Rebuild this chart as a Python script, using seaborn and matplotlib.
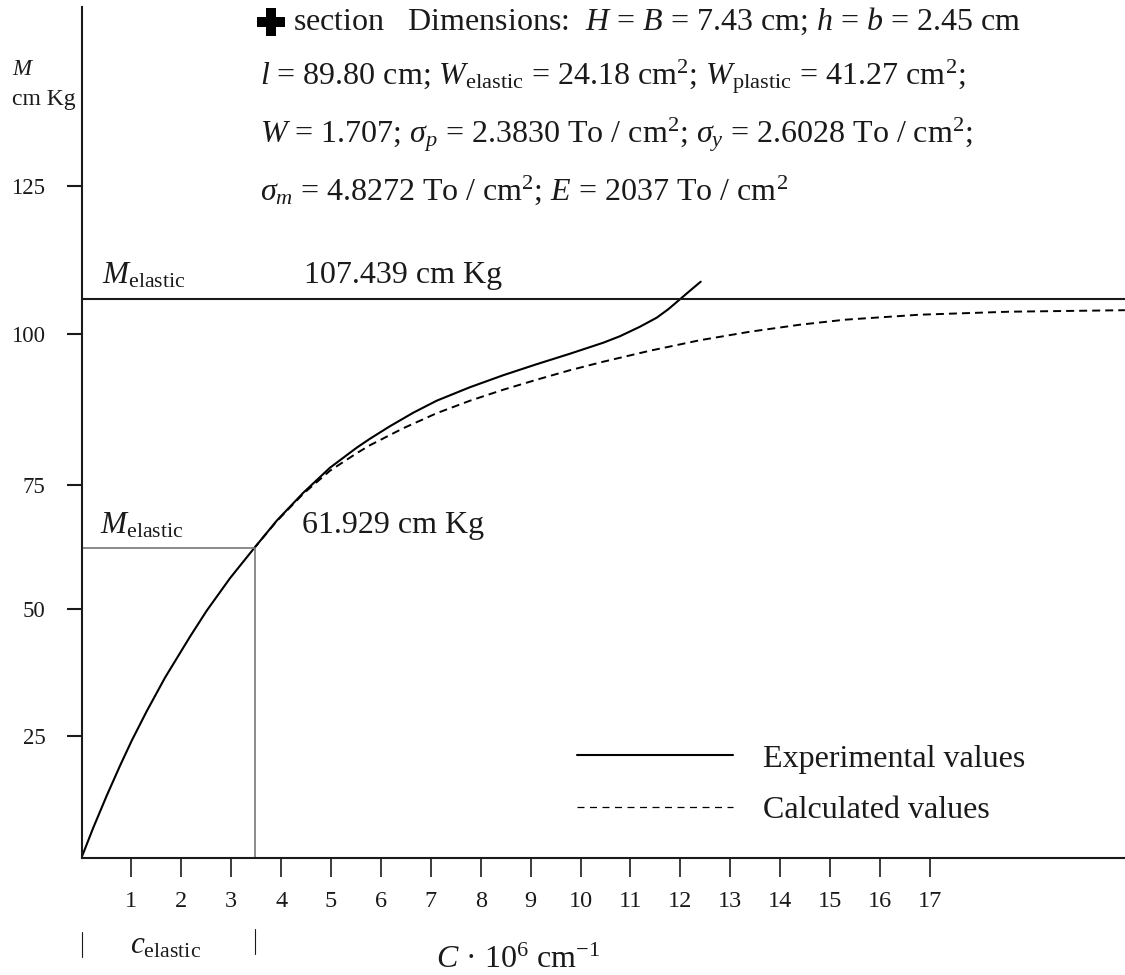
import matplotlib
matplotlib.use("Agg")
import matplotlib.pyplot as plt
import pandas as pd
import seaborn as sns

# values as drawn; the printed M axis in the source is not evenly spaced
exp_c = [0.0, 0.236, 0.505, 0.772, 1.006, 1.307, 1.673, 2.174, 2.509, 2.976, 3.443, 3.912, 4.445, 4.98, 5.515, 5.782,
         6.182, 6.649, 7.118, 7.786, 8.453, 9.122, 9.79, 10.457, 10.792, 11.192, 11.527, 11.76, 11.96, 12.194, 12.409]
exp_m = [0.0, 6.0, 12.4, 18.4, 23.4, 29.3, 36.0, 44.2, 49.4, 55.9, 61.7, 67.4, 73.0, 78.0, 82.0, 83.8,
         86.3, 89.0, 91.4, 94.1, 96.5, 98.7, 100.8, 103.0, 104.3, 106.2, 108.0, 109.7, 111.4, 113.4, 115.2]

calc_c = [3.443, 3.912, 4.445, 4.98, 5.515, 5.782, 6.449, 7.118, 7.786, 8.453, 9.122, 9.79, 10.457, 11.393, 12.395,
          13.397, 14.399, 15.3, 16.8, 18.6, 20.91]
calc_m = [61.7, 67.3, 72.8, 77.4, 80.9, 82.5, 85.9, 88.9, 91.4, 93.6, 95.6, 97.5, 99.2, 101.4, 103.5,
          105.2, 106.6, 107.6, 108.6, 109.2, 109.5]

m_elastic_upper = 111.7
m_elastic_lower = 61.929
c_elastic = 3.48

y_tick_pos = [24.4, 49.8, 74.6, 104.8, 134.4]
y_tick_labels = ["25", "50", "75", "100", "125"]
x_tick_pos = list(range(1, 18))

W, H = 1125, 975
LEFT, BASE, TOP = 81.5, 857.7, 7

sns.set_theme(style="white", rc={"axes.facecolor": "white", "figure.facecolor": "white"})
plt.rcParams["font.family"] = ["Liberation Serif"]
plt.rcParams["mathtext.fontset"] = "custom"
plt.rcParams["mathtext.rm"] = "Liberation Serif"
plt.rcParams["mathtext.it"] = "Liberation Serif:italic"
plt.rcParams["mathtext.default"] = "rm"

fig = plt.figure(figsize=(W / 100, H / 100), dpi=100)
ax = fig.add_axes([LEFT / W, 1 - BASE / H, 1 - LEFT / W, (BASE - TOP) / H])

exp_df = pd.DataFrame({"c": exp_c, "m": exp_m})
calc_df = pd.DataFrame({"c": calc_c, "m": calc_m})
sns.lineplot(data=exp_df, x="c", y="m", color="black", linewidth=1.5, ax=ax, label="Experimental values", sort=False)
sns.lineplot(data=calc_df, x="c", y="m", color="black", linewidth=1.4, ax=ax, label="Calculated values", sort=False,
             linestyle=(0, (4.1, 2.6)))

ax.plot([0, 20.91], [m_elastic_upper, m_elastic_upper], color="#1a1a1a", lw=1.5)
ax.plot([0, c_elastic, c_elastic], [m_elastic_lower, m_elastic_lower, 0], color="#777777", lw=1.2)

ax.set_xlim(0, (W - LEFT) / 49.9)
ax.set_ylim(0, (BASE - TOP) / 5)
ax.set_xlabel("")
ax.set_ylabel("")
ax.set_xticks(x_tick_pos, [str(v) for v in x_tick_pos])
ax.set_yticks(y_tick_pos, y_tick_labels)
ax.tick_params(axis="x", direction="out", bottom=True, length=13.5, width=1.2, pad=10.5, labelsize=17.5, color="#1a1a1a", labelcolor="#1a1a1a")
ax.tick_params(axis="y", direction="out", left=True, length=11, width=1.5, pad=15, labelsize=16.5, color="#1a1a1a", labelcolor="#1a1a1a")
for side in ["top", "right"]:
    ax.spines[side].set_visible(False)
for side in ["left", "bottom"]:
    ax.spines[side].set_color("#1a1a1a")
    ax.spines[side].set_linewidth(1.5)

leg = ax.legend(loc="upper left", bbox_to_anchor=(0.4745, 0.1333), frameon=False, fontsize=23, handlelength=4.9,
                handletextpad=0.92, labelspacing=0.7, borderpad=0, borderaxespad=0, labelcolor="#1a1a1a")
leg.get_lines()[1].set_linewidth(0.9)
leg.get_lines()[1].set_linestyle((0, (5.6, 4.4)))


def put(x, y, s, size=23):
    # x, y are figure pixels, y is the text baseline
    fig.text(x / W, 1 - y / H, s, fontsize=size, color="#1a1a1a", va="baseline", ha="left")


ax.plot([(271 - LEFT) / 49.9], [(BASE - 21.5) / 5], marker="P", ms=19.5, color="black", mew=0, clip_on=False)

put(293, 30, r"section   Dimensions:  $\mathit{H}$ = $\mathit{B}$ = 7.43 cm; $\mathit{h}$ = $\mathit{b}$ = 2.45 cm")
put(260, 84, r"$\mathit{l}$ = 89.80 cm; $\mathit{W}_{\mathrm{elastic}}$ = 24.18 cm$^{2}$; $\mathit{W}_{\mathrm{plastic}}$ = 41.27 cm$^{2}$;")
put(260, 142, r"$\mathit{W}$ = 1.707; $\mathit{\sigma}_{\mathit{p}}$ = 2.3830 To / cm$^{2}$; $\mathit{\sigma}_{\mathit{y}}$ = 2.6028 To / cm$^{2}$;")
put(260, 200, r"$\mathit{\sigma}_{\mathit{m}}$ = 4.8272 To / cm$^{2}$; $\mathit{E}$ = 2037 To / cm$^{2}$")
put(102, 283, r"$\mathit{M}_{\mathrm{elastic}}$", 22.5)
put(304, 283, "107.439 cm Kg")
put(100, 533, r"$\mathit{M}_{\mathrm{elastic}}$", 22.5)
put(302, 533, "61.929 cm Kg")
put(12, 75, r"$\mathit{M}$", 16.5)
put(12, 105, "cm Kg", 17)
put(130, 953, r"$\mathit{c}_{\mathrm{elastic}}$", 22.5)
put(436, 968, r"$\mathit{C}$ · 10$^{6}$ cm$^{-1}$", 23)

for px, top, bottom in [(81.5, 932, 957), (254.5, 929, 954)]:
    fig.add_artist(plt.Line2D([px / W, px / W], [1 - top / H, 1 - bottom / H], color="#1a1a1a", lw=0.8))

fig.savefig("out.png", dpi=100)
